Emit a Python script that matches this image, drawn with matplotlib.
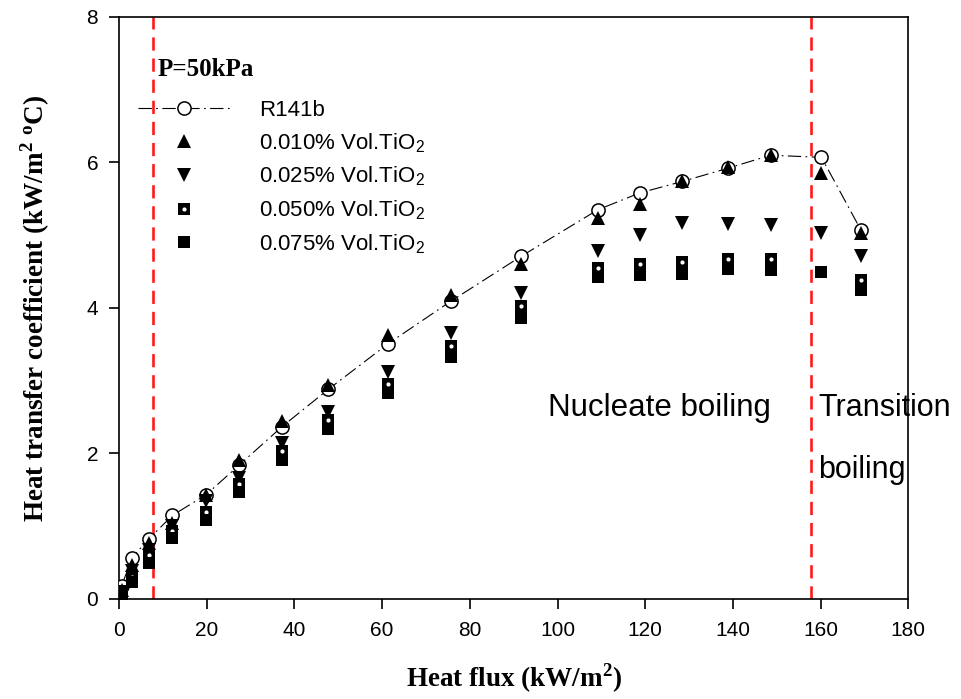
import matplotlib
matplotlib.use('Agg')
import matplotlib.pyplot as plt
from matplotlib.legend_handler import HandlerTuple

plt.rcParams['font.family'] = 'Liberation Sans'
plt.rcParams['mathtext.fontset'] = 'custom'
plt.rcParams['mathtext.rm'] = 'Liberation Sans'
plt.rcParams['mathtext.bf'] = 'Liberation Serif:bold'

heat_flux = [0.6, 3.0, 6.9, 12.2, 19.8, 27.4, 37.2, 47.7, 61.4, 75.6, 91.7,
             109.2, 118.7, 128.5, 138.8, 148.6, 160.2, 169.2]
r141b = [0.18, 0.57, 0.83, 1.15, 1.43, 1.84, 2.37, 2.88, 3.51, 4.09, 4.71,
         5.35, 5.58, 5.74, 5.92, 6.10, 6.07, 5.07]
tio2_010 = [0.12, 0.47, 0.77, 1.05, 1.43, 1.91, 2.44, 2.94, 3.63, 4.18, 4.61,
            5.24, 5.43, 5.74, 5.94, 6.10, 5.85, 5.03]
tio2_025 = [0.09, 0.38, 0.68, 1.00, 1.35, 1.66, 2.14, 2.57, 3.12, 3.65, 4.20,
            4.79, 5.00, 5.17, 5.16, 5.14, 5.03, 4.71]
tio2_050 = [0.07, 0.30, 0.60, 0.94, 1.20, 1.58, 2.03, 2.46, 2.96, 3.48, 4.03,
            4.55, 4.61, 4.63, 4.67, 4.68, 4.49, 4.38]
tio2_075 = [0.04, 0.24, 0.50, 0.84, 1.09, 1.47, 1.91, 2.34, 2.83, 3.32, 3.86,
            4.43, 4.45, 4.47, 4.53, 4.52, 4.49, 4.25]
regime_limits = [7.7, 157.8]

fig = plt.figure(figsize=(9.62, 6.99), dpi=100)
ax = fig.add_axes([0.1237, 0.1431, 0.8205, 0.8326])

for xl in regime_limits:
    ax.axvline(xl, color='#ff1a1a', lw=1.9, ls=(0, (5, 3)), zorder=1)

h_base, = ax.plot(heat_flux, r141b, color='k', lw=0.8, ls=(0, (12, 4, 1.5, 4)),
                  marker='o', ms=9.5, mfc='white', mec='k', mew=1.1, zorder=3)
h010, = ax.plot(heat_flux, tio2_010, ls='none', marker='^', ms=10, color='k', mew=0, zorder=4)
h025, = ax.plot(heat_flux, tio2_025, ls='none', marker='v', ms=10, color='k', mew=0, zorder=4)
h050, = ax.plot(heat_flux, tio2_050, ls='none', marker='s', ms=9, color='k', mew=0, zorder=5)
h050d, = ax.plot(heat_flux, tio2_050, ls='none', marker='o', ms=3, mfc='white', mew=0, zorder=5)
h075, = ax.plot(heat_flux, tio2_075, ls='none', marker='s', ms=9, color='k', mew=0, zorder=6)

ax.legend([h_base, h010, h025, (h050, h050d), h075],
          ['R141b', '0.010% Vol.TiO$_2$', '0.025% Vol.TiO$_2$',
           '0.050% Vol.TiO$_2$', '0.075% Vol.TiO$_2$'],
          handler_map={tuple: HandlerTuple(ndivide=1, pad=0)},
          loc='upper left', bbox_to_anchor=(0.024, 0.857), frameon=False,
          fontsize=16, handlelength=4.15, handletextpad=1.3, labelspacing=0.45,
          borderpad=0, borderaxespad=0)

ax.text(8.7, 7.19, 'P=50kPa', family='Liberation Serif', fontweight='bold',
        fontsize=18, va='baseline', ha='left')
ax.text(97.8, 2.63, 'Nucleate boiling', fontsize=22.5, va='center', ha='left')
ax.text(159.4, 2.63, 'Transition', fontsize=22, va='center', ha='left', clip_on=False)
ax.text(159.4, 1.77, 'boiling', fontsize=22, va='center', ha='left', clip_on=False)

ax.set_xlim(0, 180)
ax.set_ylim(0, 8)
ax.set_xticks(range(0, 181, 20))
ax.set_yticks(range(0, 9, 2))
ax.tick_params(labelsize=15, length=7, width=1.2, direction='out')
ax.tick_params(axis='x', pad=9)
ax.tick_params(axis='y', pad=8)
for s in ax.spines.values():
    s.set_linewidth(1.2)

ax.set_xlabel(r'Heat flux (kW/m$^\mathbf{2}$)', family='Liberation Serif',
              fontweight='bold', fontsize=19.5)
ax.set_ylabel(r'Heat transfer coefficient (kW/m$^\mathbf{2}$ $^\mathbf{o}$C)',
              family='Liberation Serif', fontweight='bold', fontsize=19.5)
ax.xaxis.label.set_va('center')
ax.yaxis.label.set_va('center')
ax.xaxis.set_label_coords(0.5, -0.136)
ax.yaxis.set_label_coords(-0.106, 0.5)

fig.savefig('out.png', dpi=100)
